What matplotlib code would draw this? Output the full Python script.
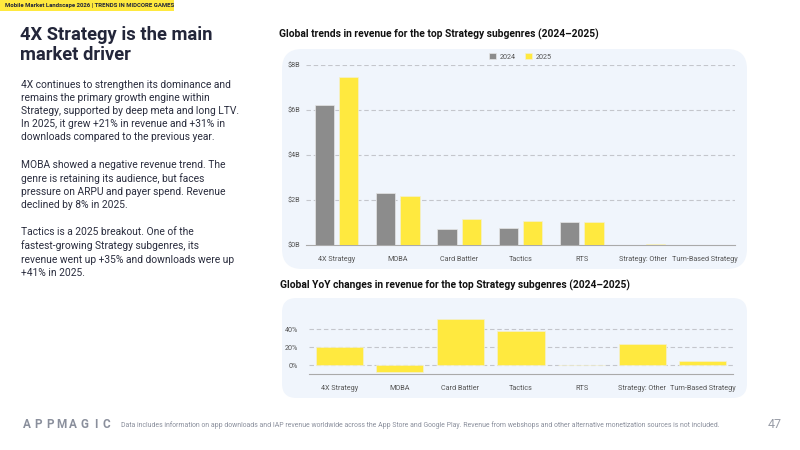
import matplotlib
matplotlib.use("Agg")
import matplotlib.pyplot as plt
from matplotlib.patches import FancyBboxPatch, Rectangle
import numpy as np

plt.rcParams['font.family'] = ['Roboto', 'DejaVu Sans']

categories = ["4X Strategy", "MOBA", "Card Battler", "Tactics", "RTS",
              "Strategy: Other", "Turn-Based Strategy"]
rev_2024 = [6.22, 2.31, 0.71, 0.76, 1.02, 0.02, 0.01]
rev_2025 = [7.45, 2.16, 1.14, 1.08, 1.02, 0.05, 0.01]
yoy_change = [20, -7, 52, 38, 0.5, 24, 4.5]
rev_ticks = [0, 2, 4, 6, 8]
rev_tick_labels = ["$0B", "$2B", "$4B", "$6B", "$8B"]
yoy_ticks = [0, 20, 40]
yoy_tick_labels = ["0%", "20%", "40%"]

W, H = 800, 450
GRAY = "#8c8c8c"
YELLOW = "#ffe93f"
PANEL = "#f0f5fc"
DARK = "#23263a"
GRID = "#c4c6cc"

fig = plt.figure(figsize=(8, 4.5), dpi=100)
fig.patch.set_facecolor("white")


def fx(x):
    return x / W


def fy(y):
    return 1 - y / H


def ax_rect(x0, y0, x1, y1):
    return [fx(x0), fy(y1), (x1 - x0) / W, (y1 - y0) / H]


# Header band
fig.patches.append(Rectangle((0, fy(11)), fx(174), 11 / H, transform=fig.transFigure,
                             facecolor=YELLOW, edgecolor="none", zorder=-5))
fig.text(fx(5), fy(5.5), "Mobile Market Landscape 2026 | TRENDS IN MIDCORE GAMES",
         fontsize=4.3, fontweight="bold", color=DARK, va="center", ha="left")

# Title
fig.text(fx(20), fy(26.5), "4X Strategy is the main\nmarket driver", fontsize=13.2,
         fontweight="bold", color=DARK, va="top", ha="left", linespacing=1.1)

# Body text
paras = [
    ("4X continues to strengthen its dominance and\nremains the primary growth engine within\n"
     "Strategy, supported by deep meta and long LTV.\nIn 2025, it grew +21% in revenue and +31% in\n"
     "downloads compared to the previous year.", 84),
    ("MOBA showed a negative revenue trend. The\ngenre is retaining its audience, but faces\n"
     "pressure on ARPU and payer spend. Revenue\ndeclined by 8% in 2025.", 164),
    ("Tactics is a 2025 breakout. One of the\nfastest-growing Strategy subgenres, its\n"
     "revenue went up +35% and downloads were up\n+41% in 2025.", 231.7),
]
for txt, ycen in paras:
    fig.text(fx(21), fy(ycen - 4.5), txt, fontsize=7.35, color="#2a2d3e", va="top",
             ha="left", linespacing=1.38)

# Chart titles
fig.text(fx(279), fy(34), "Global trends in revenue for the top Strategy subgenres (2024\u20132025)",
         fontsize=7.4, fontweight="bold", color="#111", va="center", ha="left")
fig.text(fx(280), fy(285), "Global YoY changes in revenue for the top Strategy subgenres (2024\u20132025)",
         fontsize=7.4, fontweight="bold", color="#111", va="center", ha="left")

# Panels
fig.patches.append(FancyBboxPatch((fx(282), fy(269)), (747 - 282) / W, (269 - 49) / H,
                                  boxstyle="round,pad=0,rounding_size=0.025",
                                  transform=fig.transFigure, facecolor=PANEL,
                                  edgecolor="none", mutation_aspect=W / H, zorder=-5))
fig.patches.append(FancyBboxPatch((fx(282), fy(398)), (747 - 282) / W, (398 - 298) / H,
                                  boxstyle="round,pad=0,rounding_size=0.018",
                                  transform=fig.transFigure, facecolor=PANEL,
                                  edgecolor="none", mutation_aspect=W / H, zorder=-5))

# Top chart
x = np.arange(len(categories))
bw = 0.315
ax1 = fig.add_axes(ax_rect(306, 65, 735, 245))
ax1.set_zorder(2)
ax1.set_facecolor("none")
ax1.bar(x - bw / 2 - 0.04, rev_2024, bw, color=GRAY, edgecolor="#e6e6e6", linewidth=0.5,
        label="2024", zorder=3)
ax1.bar(x + bw / 2 + 0.04, rev_2025, bw, color=YELLOW, edgecolor="#f3f0d0", linewidth=0.5,
        label="2025", zorder=3)
ax1.set_xlim(-0.5, len(categories) - 0.5)
ax1.set_ylim(0, 8)
ax1.set_yticks(rev_ticks)
ax1.set_yticklabels(rev_tick_labels)
ax1.set_xticks(x)
ax1.set_xticklabels(categories)
ax1.tick_params(axis="both", length=0, labelsize=5.2, labelcolor="#555")
ax1.tick_params(axis="x", pad=8)
ax1.tick_params(axis="y", pad=4)
for t in rev_ticks[1:]:
    ax1.axhline(t, color=GRID, lw=0.8, ls=(0, (4, 2.5)), zorder=1)
for s in ["top", "right", "left"]:
    ax1.spines[s].set_visible(False)
ax1.spines["bottom"].set_color("#aaa")
ax1.spines["bottom"].set_linewidth(0.8)
leg = ax1.legend(loc="lower center", bbox_to_anchor=(0.5, 1.0), ncol=2, frameon=False,
                 fontsize=5.2, handlelength=1.0, handleheight=1.0, handletextpad=0.5,
                 columnspacing=1.2, borderaxespad=0.2)
for t in leg.get_texts():
    t.set_color("#555")

# Bottom chart
ax2 = fig.add_axes(ax_rect(309, 315.8, 733, 374.3))
ax2.set_zorder(2)
ax2.set_facecolor("none")
ax2.bar(x, yoy_change, 0.78, color=YELLOW, edgecolor="#f3f0d0", linewidth=0.5, zorder=3)
ax2.set_xlim(-0.5, len(categories) - 0.5)
ax2.set_ylim(-10, 55)
ax2.set_yticks(yoy_ticks)
ax2.set_yticklabels(yoy_tick_labels)
ax2.set_xticks(x)
ax2.set_xticklabels(categories)
ax2.tick_params(axis="both", length=0, labelsize=5.2, labelcolor="#555")
ax2.tick_params(axis="x", pad=8)
ax2.tick_params(axis="y", pad=8)
for t in yoy_ticks:
    ax2.axhline(t, color=GRID, lw=0.8, ls=(0, (4, 2.5)), zorder=1)
for s in ["top", "right", "left"]:
    ax2.spines[s].set_visible(False)
ax2.spines["bottom"].set_color("#aaa")
ax2.spines["bottom"].set_linewidth(0.8)

# Footer
logo = "APPMAGIC"
for i, ch in enumerate(logo):
    fig.text(fx(27 + i * 11.4), fy(425), ch, fontsize=8.5, fontweight="bold", color="#8a8f9c",
             va="center", ha="center")
fig.text(fx(121), fy(425), "Data includes information on app downloads and IAP revenue worldwide "
         "across the App Store and Google Play. Revenue from webshops and other alternative "
         "monetization sources is not included.", fontsize=4.95, color="#8a8f9c",
         va="center", ha="left")
fig.text(fx(782), fy(425), "47", fontsize=9, color="#9a9ea8", va="center", ha="right")

fig.savefig("out.png", dpi=100, facecolor="white")
